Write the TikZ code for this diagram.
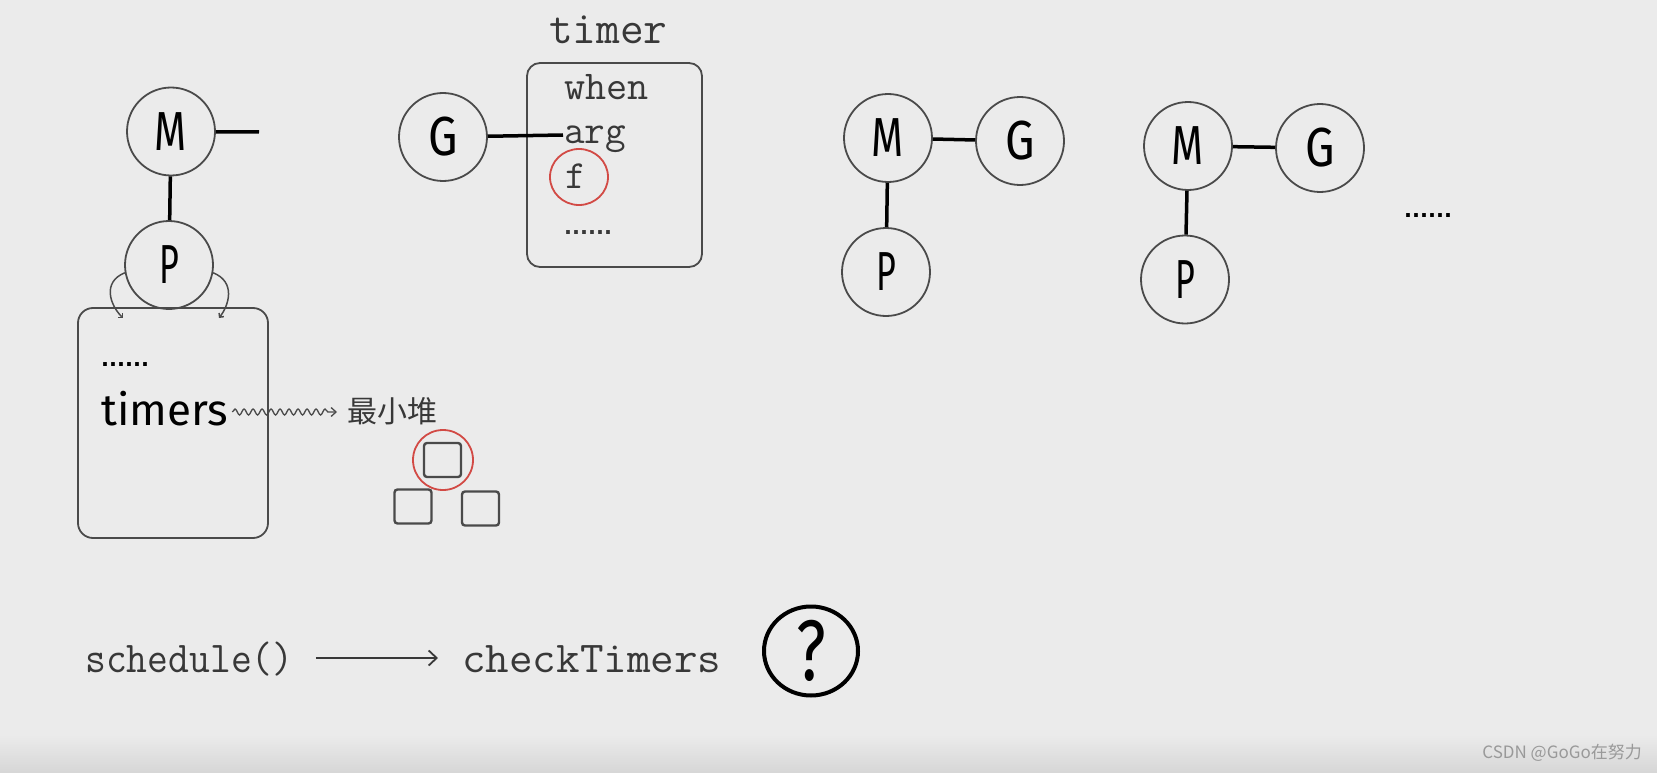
\documentclass[tikz,border=0pt]{standalone}
\usepackage{graphicx}
\usepackage{fontspec}
\setmainfont{Fira Sans}
\newfontfamily\cjkf{Noto Sans CJK SC}
\newfontfamily\dotf{DejaVu Sans}
\newcommand\monof{\ttfamily}
\usetikzlibrary{decorations.pathmorphing,arrows.meta,shapes.geometric}
\definecolor{bgc}{HTML}{EBEBEB}
\definecolor{bgd}{HTML}{D6D6D6}
\definecolor{edge}{HTML}{4A4A4A}
\definecolor{txt}{HTML}{383838}
\definecolor{redc}{HTML}{D24A45}
\newcommand\sx[2]{\scalebox{#1}[1]{#2}}
\begin{document}
\begin{tikzpicture}[x=1pt,y=-1pt,
  gp/.style={circle,draw=edge,line width=1.8pt,minimum size=88pt,inner sep=0pt,
    font=\fontsize{55}{55}\selectfont},
  link/.style={line width=3.5pt,black},
  box/.style={draw=edge,line width=1.8pt,rounded corners=15pt,inner sep=0pt},
  sq/.style={draw=edge,line width=2.4pt,rounded corners=3pt,inner sep=0pt,minimum width=37pt,minimum height=34pt},
  redring/.style={circle,draw=redc,line width=1.8pt,inner sep=0pt},
  mono/.style={inner sep=0pt,anchor=base west,text=txt},
  dots/.style={inner sep=0pt,anchor=base west,font=\dotf\bfseries\fontsize{21}{21}\selectfont},
  hook/.style={edge,line width=1.5pt,-{Straight Barb[length=3pt,width=6pt]}},
]
\useasboundingbox (0,0) rectangle (1657,773);
\fill[bgc] (0,0) rectangle (1657,773);
\shade[top color=bgc,bottom color=bgd] (0,735) rectangle (1657,773);

% ---- left M / P with timers box
\node[gp] (M1) at (171,131.5) {\sx{0.75}{M}};
\node[gp] (P1) at (169,265) {\sx{0.62}{P}};
\coordinate (m1stub) at (259,132);
\draw[link] (M1) -- (m1stub);
\draw[link] (M1) -- (P1);
\node[box,minimum width=190pt,minimum height=230pt] (box1) at (173,423) {};
\draw[hook] (P1.190) .. controls (102,282) and (110,305) .. (123,318);
\draw[hook] (P1.-10) .. controls (236,282) and (229,305) .. (219,318);
\node[dots] (d1) at (101,366) {......};
\node[inner sep=0pt,anchor=base west,font=\fontsize{44}{44}\selectfont] (timers) at (101,425) {timers};
\node[inner sep=0pt,anchor=west,text=txt,font=\cjkf\fontsize{30}{30}\selectfont] (heap) at (347,411) {最小堆};
\draw[edge,line width=1.3pt,decorate,decoration={snake,amplitude=3pt,segment length=9pt,post length=7pt},
  -{Straight Barb[length=5pt,width=9pt]}] ([xshift=4pt]timers.east |- 0,412) -- ([xshift=-10pt]heap.west |- 0,412);
\node[sq] (s0) at (442.5,460) {};
\node[sq] (s1) at (413,506.5) {};
\node[sq] (s2) at (480.5,508.5) {};
\node[redring,minimum size=60pt] (rc) at (443,460) {};

% ---- G and timer struct
\node[gp] (G1) at (443,137) {\sx{0.85}{G}};
\node[mono,font=\monof\fontsize{46}{46}\selectfont] (tname) at (549,44) {timer};
\node[box,rounded corners=13pt,minimum width=175pt,minimum height=204pt] (tbox) at (614.5,165) {};
\node[mono,font=\monof\fontsize{41}{41}\selectfont] (when) at (564,100) {when};
\node[mono,font=\monof\fontsize{40}{40}\selectfont] (arg) at (564,143) {arg};
\node[mono,font=\monof\fontsize{40}{40}\selectfont] (f) at (565,188) {f};
\node[redring,minimum width=58pt,minimum height=56pt,ellipse] (fc) at (579,177) {};
\node[dots,text=txt] (d2) at (564,234) {......};
\coordinate (argEnd) at (563,135);
\draw[link] (G1) -- (argEnd);

% ---- M-G-P groups
\node[gp] (M2) at (888,138) {\sx{0.75}{M}};
\node[gp] (G2) at (1020,141) {\sx{0.85}{G}};
\node[gp] (P2) at (886,272) {\sx{0.62}{P}};
\draw[link] (M2) -- (G2);
\draw[link] (M2) -- (P2);
\node[gp] (M3) at (1188,146) {\sx{0.75}{M}};
\node[gp] (G3) at (1320,148) {\sx{0.85}{G}};
\node[gp] (P3) at (1185,279.5) {\sx{0.62}{P}};
\draw[link] (M3) -- (G3);
\draw[link] (M3) -- (P3);
\node[dots] (d3) at (1404,217) {......};

% ---- bottom line
\node[mono,font=\monof\fontsize{44}{44}\selectfont] (sched) at (85,672) {\sx{0.92}{schedule()}};
\node[mono,font=\monof\fontsize{44}{44}\selectfont] (check) at (462,672) {\sx{1.04}{checkTimers}};
\draw[txt,line width=1.8pt,-{Straight Barb[length=8pt,width=15pt]}] ([xshift=22pt]sched.east |- 0,658) -- ([xshift=-24pt]check.west |- 0,658);
\node[ellipse,draw=black,line width=4pt,minimum width=94pt,minimum height=89pt,inner sep=0pt,
  font=\fontsize{86}{86}\selectfont] (q) at (811,651) {\sx{0.75}{?}};

% ---- watermark
\node[inner sep=0pt,anchor=east,text=black!40,font=\cjkf\fontsize{17}{17}\selectfont] (wm) at (1642,753) {CSDN @GoGo在努力};
\end{tikzpicture}
\end{document}
